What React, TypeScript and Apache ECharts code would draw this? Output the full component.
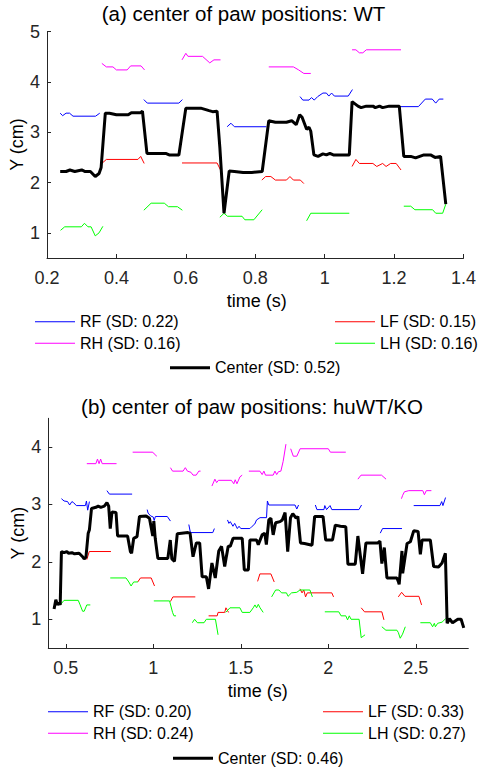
import React, { useEffect, useRef } from "react";
import * as echarts from "echarts";

// ---------- (a) WT ----------
const wtTitle = "(a) center of paw positions: WT";
const wtLegend = ["RF (SD: 0.22)", "LF (SD: 0.15)", "RH (SD: 0.16)", "LH (SD: 0.16)", "Center (SD: 0.52)"];
const wtXTicks = [0.2, 0.4, 0.6, 0.8, 1, 1.2, 1.4];
const wtYTicks = [1, 2, 3, 4, 5];

const wtRF = [
  [[0.238, 3.38], [0.245, 3.33], [0.255, 3.38], [0.265, 3.38], [0.275, 3.32], [0.34, 3.32], [0.352, 3.38]],
  [[0.479, 3.65], [0.489, 3.58], [0.58, 3.58], [0.59, 3.65]],
  [[0.719, 3.11], [0.73, 3.18], [0.74, 3.11], [0.832, 3.11]],
  [[0.929, 3.71], [0.937, 3.64], [0.955, 3.64], [0.962, 3.69], [0.97, 3.64], [0.98, 3.71], [0.995, 3.78], [1.005, 3.78], [1.012, 3.72], [1.02, 3.78], [1.028, 3.72], [1.068, 3.72], [1.08, 3.85]],
  [[1.216, 3.51], [1.27, 3.51], [1.29, 3.66], [1.31, 3.66], [1.32, 3.58], [1.33, 3.66], [1.342, 3.66]],
];
const wtRH = [
  [[0.358, 4.37], [0.371, 4.3], [0.39, 4.3], [0.4, 4.24], [0.431, 4.24], [0.441, 4.32], [0.471, 4.32], [0.481, 4.24]],
  [[0.589, 4.44], [0.6, 4.57], [0.606, 4.51], [0.648, 4.51], [0.669, 4.38], [0.681, 4.44], [0.7, 4.44]],
  [[0.839, 4.3], [0.91, 4.3], [0.925, 4.24], [0.94, 4.17], [0.96, 4.17]],
  [[1.079, 4.64], [1.09, 4.64], [1.1, 4.58], [1.11, 4.58], [1.12, 4.64], [1.22, 4.64]],
];
const wtLF = [
  [[0.358, 2.38], [0.371, 2.46], [0.462, 2.46], [0.47, 2.52], [0.48, 2.38]],
  [[0.589, 2.39], [0.69, 2.39], [0.7, 2.25]],
  [[0.819, 2.05], [0.83, 2.12], [0.845, 2.12], [0.858, 2.05], [0.89, 2.05], [0.9, 2.12], [0.91, 2.05], [0.93, 2.05], [0.94, 1.98]],
  [[1.079, 2.32], [1.09, 2.46], [1.1, 2.38], [1.139, 2.38], [1.15, 2.32], [1.167, 2.38], [1.177, 2.32], [1.19, 2.38], [1.206, 2.38], [1.22, 2.25]],
];
const wtLH = [
  [[0.239, 1.05], [0.251, 1.12], [0.299, 1.12], [0.308, 1.19], [0.318, 1.12], [0.327, 1.12], [0.339, 0.94], [0.35, 1.0], [0.361, 1.13]],
  [[0.479, 1.45], [0.5, 1.59], [0.538, 1.59], [0.55, 1.52], [0.576, 1.52], [0.59, 1.45]],
  [[0.698, 1.31], [0.71, 1.39], [0.72, 1.33], [0.762, 1.33], [0.77, 1.26], [0.796, 1.26], [0.82, 1.46]],
  [[0.948, 1.24], [0.96, 1.39], [1.071, 1.39]],
  [[1.228, 1.53], [1.248, 1.53], [1.26, 1.46], [1.311, 1.46], [1.32, 1.39], [1.34, 1.39], [1.349, 1.57]],
];
const wtCenter = [
  [0.238, 2.22], [0.255, 2.22], [0.266, 2.25], [0.28, 2.22], [0.3, 2.25], [0.31, 2.22], [0.325, 2.22], [0.339, 2.12], [0.35, 2.18], [0.356, 2.3],
  [0.368, 3.38], [0.38, 3.38], [0.4, 3.35], [0.434, 3.35], [0.443, 3.39], [0.47, 3.39], [0.475, 3.42], [0.488, 2.58], [0.5, 2.58], [0.542, 2.58],
  [0.552, 2.55], [0.58, 2.55], [0.6, 3.48], [0.643, 3.48], [0.667, 3.43], [0.677, 3.41], [0.69, 3.42], [0.698, 2.7], [0.71, 1.39], [0.725, 2.23],
  [0.74, 2.22], [0.765, 2.2], [0.79, 2.2], [0.82, 2.22], [0.839, 3.23], [0.858, 3.2], [0.89, 3.2], [0.905, 3.23], [0.918, 3.15], [0.928, 3.35],
  [0.935, 3.3], [0.948, 3.06], [0.955, 3.1], [0.96, 3.02], [0.969, 2.55], [0.981, 2.52], [0.995, 2.57], [1.005, 2.55], [1.015, 2.58], [1.025, 2.55],
  [1.071, 2.55], [1.079, 3.61], [1.096, 3.52], [1.105, 3.49], [1.12, 3.52], [1.139, 3.52], [1.146, 3.49], [1.158, 3.52], [1.167, 3.49], [1.186, 3.52],
  [1.215, 3.52], [1.228, 2.52], [1.248, 2.52], [1.262, 2.49], [1.286, 2.55], [1.305, 2.55], [1.318, 2.5], [1.334, 2.52], [1.349, 1.57],
];

// ---------- (b) huWT/KO ----------
const koTitle = "(b) center of paw positions: huWT/KO";
const koLegend = ["RF (SD: 0.20)", "LF (SD: 0.33)", "RH (SD: 0.24)", "LH (SD: 0.27)", "Center (SD: 0.46)"];
const koXTicks = [0.5, 1, 1.5, 2, 2.5];
const koYTicks = [1, 2, 3, 4];

const koRF = [
  [[0.475, 3.1], [0.49, 3.06], [0.51, 3.05], [0.522, 2.99], [0.535, 3.05], [0.545, 3.03], [0.56, 2.98], [0.612, 2.98], [0.618, 3.06], [0.625, 2.9], [0.635, 3.05]],
  [[0.735, 3.24], [0.749, 3.18], [0.879, 3.18]],
  [[0.965, 2.91], [0.97, 2.85], [0.985, 2.8], [1.0, 2.78], [1.005, 2.72], [1.012, 2.79], [1.08, 2.79], [1.098, 2.71]],
  [[1.203, 2.65], [1.212, 2.51], [1.34, 2.51], [1.349, 2.58]],
  [[1.424, 2.73], [1.432, 2.67], [1.44, 2.7], [1.455, 2.62], [1.465, 2.67], [1.48, 2.58], [1.49, 2.62], [1.5, 2.58], [1.552, 2.58], [1.565, 2.62], [1.58, 2.66], [1.59, 2.73], [1.61, 2.77], [1.647, 2.77], [1.652, 3.06], [1.66, 2.99], [1.81, 2.99], [1.82, 2.92], [1.83, 2.99]],
  [[1.926, 2.99], [1.935, 2.91], [1.975, 2.91], [1.98, 2.98], [1.99, 2.91], [2.01, 2.98], [2.02, 2.91], [2.175, 2.91], [2.19, 2.99]],
  [[2.297, 2.5], [2.31, 2.58], [2.421, 2.58]],
  [[2.488, 2.98], [2.638, 2.98], [2.648, 3.05], [2.655, 2.98], [2.67, 3.12]],
];
const koRH = [
  [[0.62, 3.71], [0.672, 3.71], [0.681, 3.79], [0.69, 3.71], [0.699, 3.79], [0.708, 3.71], [0.79, 3.71]],
  [[0.882, 3.91], [0.997, 3.91], [1.005, 3.88], [1.02, 3.84]],
  [[1.098, 3.64], [1.11, 3.58], [1.17, 3.58], [1.183, 3.64], [1.195, 3.58], [1.215, 3.56], [1.227, 3.51], [1.245, 3.51], [1.26, 3.58], [1.27, 3.58]],
  [[1.335, 3.32], [1.352, 3.44], [1.362, 3.38], [1.372, 3.42], [1.446, 3.42], [1.46, 3.36], [1.468, 3.43], [1.478, 3.36], [1.495, 3.48], [1.508, 3.51]],
  [[1.546, 3.58], [1.609, 3.58], [1.622, 3.52], [1.632, 3.58], [1.641, 3.51], [1.685, 3.51], [1.695, 3.58], [1.705, 3.52], [1.715, 3.57], [1.729, 3.58], [1.742, 3.75], [1.758, 4.05]],
  [[1.785, 3.97], [1.8, 3.84], [1.82, 3.84], [1.839, 3.97], [2.0, 3.97], [2.012, 3.91], [2.1, 3.91]],
  [[2.169, 3.44], [2.187, 3.51], [2.304, 3.51], [2.33, 3.44]],
  [[2.418, 3.1], [2.425, 3.16], [2.435, 3.22], [2.46, 3.24], [2.54, 3.24], [2.549, 3.17], [2.56, 3.24], [2.589, 3.24]],
];
const koLF = [
  [[0.62, 2.04], [0.634, 2.18], [0.758, 2.18]],
  [[0.911, 1.65], [0.927, 1.72], [0.988, 1.72], [1.007, 1.58]],
  [[1.098, 1.31], [1.112, 1.39], [1.24, 1.39]],
  [[1.316, 1.06], [1.365, 1.06], [1.37, 1.12], [1.408, 1.12], [1.415, 1.2], [1.43, 1.12]],
  [[1.596, 1.66], [1.609, 1.79], [1.672, 1.79], [1.691, 1.65]],
  [[1.838, 1.53], [1.85, 1.46], [1.86, 1.51], [1.87, 1.39], [1.88, 1.46], [2.02, 1.46], [2.03, 1.39]],
  [[2.188, 1.2], [2.207, 1.13], [2.306, 1.13], [2.318, 0.99]],
  [[2.4, 1.39], [2.419, 1.47], [2.438, 1.4], [2.518, 1.4], [2.533, 1.25]],
];
const koLH = [
  [[0.468, 1.25], [0.49, 1.33], [0.571, 1.33], [0.582, 1.25], [0.596, 1.14], [0.605, 1.14], [0.62, 1.25], [0.64, 1.25]],
  [[0.754, 1.72], [0.844, 1.72], [0.86, 1.65], [0.873, 1.58], [0.888, 1.65], [0.912, 1.65]],
  [[1.003, 1.32], [1.093, 1.32], [1.11, 1.12], [1.118, 1.06], [1.13, 1.06]],
  [[1.223, 0.94], [1.236, 1.0], [1.252, 0.94], [1.29, 0.94], [1.303, 1.0], [1.355, 1.0], [1.37, 0.73]],
  [[1.414, 1.12], [1.438, 1.2], [1.495, 1.2], [1.508, 1.12], [1.552, 1.12], [1.571, 1.2], [1.581, 1.25], [1.59, 1.2], [1.6, 1.26], [1.61, 1.2], [1.628, 1.12]],
  [[1.676, 1.39], [1.699, 1.51], [1.718, 1.51], [1.733, 1.46], [1.761, 1.46], [1.77, 1.4], [1.79, 1.46], [1.82, 1.47], [1.838, 1.51], [1.895, 1.51], [1.909, 1.39]],
  [[1.98, 1.13], [2.06, 1.13], [2.073, 1.06], [2.1, 1.06], [2.11, 0.99], [2.12, 1.06], [2.13, 1.0], [2.176, 1.0], [2.188, 0.68], [2.21, 0.73]],
  [[2.306, 0.87], [2.329, 0.81], [2.392, 0.81], [2.4, 0.77], [2.411, 0.67], [2.424, 0.74], [2.44, 0.87]],
  [[2.526, 0.94], [2.583, 0.94], [2.596, 0.87], [2.606, 0.93], [2.612, 0.87], [2.625, 0.93], [2.65, 0.95], [2.67, 1.01]],
];
const koCenter = [
  [0.433, 1.18], [0.443, 1.34], [0.452, 1.25], [0.462, 1.29], [0.468, 1.25], [0.475, 2.18], [0.49, 2.16], [0.506, 2.18], [0.515, 2.15], [0.535, 2.16],
  [0.55, 2.14], [0.576, 2.15], [0.596, 2.09], [0.605, 2.05], [0.615, 2.08], [0.628, 2.5], [0.635, 2.56], [0.647, 2.93], [0.672, 2.95], [0.685, 2.97],
  [0.7, 2.95], [0.72, 2.97], [0.735, 3.03], [0.745, 2.97], [0.754, 2.58], [0.764, 2.87], [0.787, 2.86], [0.796, 2.45], [0.853, 2.45], [0.869, 2.18],
  [0.876, 2.15], [0.888, 2.41], [0.907, 2.44], [0.921, 2.79], [0.959, 2.8], [0.978, 2.76], [0.997, 2.45], [1.003, 2.71], [1.011, 2.41], [1.026, 2.06],
  [1.083, 2.06], [1.097, 2.38], [1.106, 2.05], [1.121, 2.01], [1.137, 2.49], [1.198, 2.51], [1.21, 2.5], [1.227, 2.09], [1.246, 2.33], [1.265, 2.33],
  [1.279, 1.74], [1.303, 1.74], [1.316, 1.53], [1.335, 1.98], [1.354, 1.72], [1.374, 2.19], [1.39, 2.27], [1.408, 1.92], [1.418, 2.1], [1.428, 2.27],
  [1.44, 2.27], [1.456, 2.41], [1.508, 2.41], [1.52, 1.86], [1.543, 1.86], [1.552, 2.38], [1.59, 2.38], [1.6, 2.3], [1.622, 2.47], [1.637, 2.5],
  [1.646, 2.3], [1.66, 2.73], [1.672, 2.76], [1.685, 2.47], [1.699, 2.68], [1.724, 2.7], [1.737, 2.73], [1.753, 2.86], [1.768, 2.18], [1.784, 2.77],
  [1.797, 2.84], [1.816, 2.76], [1.826, 2.79], [1.841, 2.33], [1.864, 2.32], [1.907, 2.29], [1.922, 2.79], [1.97, 2.79], [1.985, 2.38], [2.024, 2.38],
  [2.04, 2.64], [2.069, 2.62], [2.1, 2.61], [2.112, 1.96], [2.154, 1.96], [2.169, 2.45], [2.196, 1.79], [2.215, 2.33], [2.283, 2.33], [2.295, 2.36],
  [2.306, 1.97], [2.32, 2.25], [2.335, 1.72], [2.392, 1.72], [2.4, 1.66], [2.405, 1.61], [2.421, 2.19], [2.425, 1.8], [2.45, 2.32], [2.469, 2.35],
  [2.488, 2.54], [2.513, 2.53], [2.526, 2.13], [2.536, 2.38], [2.583, 2.38], [2.602, 1.92], [2.63, 1.91], [2.65, 1.98], [2.669, 2.15], [2.679, 0.93],
  [2.692, 1.01], [2.71, 0.94], [2.74, 1.0], [2.759, 1.0], [2.774, 0.85],
];

const FONT = "'Liberation Sans', Arial, Helvetica, sans-serif";
const AXIS = "#262626";
const COLORS = { RF: "#0000ff", LF: "#ff0000", RH: "#ff00ff", LH: "#00ff00", C: "#000000" };

function segSeries(name: string, color: string, width: number, segs: number[][][], idx: number, z: number) {
  return segs.map((seg) => ({
    type: "line",
    name,
    data: seg,
    xAxisIndex: idx,
    yAxisIndex: idx,
    symbol: "none",
    showSymbol: false,
    silent: true,
    z,
    lineStyle: { color, width },
    itemStyle: { color },
    emphasis: { disabled: true },
  }));
}

function xAxisCfg(idx: number, min: number, max: number, ticks: number[]) {
  return {
    type: "value",
    gridIndex: idx,
    min,
    max,
    axisLine: { show: true, onZero: false, lineStyle: { color: AXIS, width: 1 } },
    axisTick: { show: true, inside: true, length: 4, lineStyle: { color: AXIS }, customValues: ticks },
    axisLabel: { fontSize: 18, color: AXIS, fontFamily: FONT, margin: 11, customValues: ticks },
    splitLine: { show: false },
  };
}
function yAxisCfg(idx: number, min: number, max: number, ticks: number[]) {
  return {
    type: "value",
    gridIndex: idx,
    min,
    max,
    axisLine: { show: true, onZero: false, lineStyle: { color: AXIS, width: 1 } },
    axisTick: { show: true, inside: true, length: 4, lineStyle: { color: AXIS }, customValues: ticks },
    axisLabel: { fontSize: 18, color: AXIS, fontFamily: FONT, margin: 7, customValues: ticks },
    splitLine: { show: false },
  };
}

function legendCfg(name: string, left: number, cy: number, thick: number) {
  return {
    data: [name],
    left,
    top: cy - 8,
    padding: 0,
    icon: "rect",
    itemWidth: 40,
    itemHeight: thick,
    itemGap: 0,
    selectedMode: false,
    textStyle: { fontFamily: FONT, fontSize: 16, color: "#000", lineHeight: 16 },
  };
}

function txt(text: string, x: number, y: number, size: number, rot = 0) {
  return {
    type: "text",
    x,
    y,
    rotation: rot,
    silent: true,
    style: {
      text,
      fill: "#000",
      fontSize: size,
      fontFamily: FONT,
      fontWeight: "normal",
      align: "center",
      verticalAlign: "middle",
      textAlign: "center",
      textVerticalAlign: "middle",
    },
  };
}

export default function App() {
  const ref = useRef<HTMLDivElement>(null);
  useEffect(() => {
    document.body.style.margin = "0";
    if (!ref.current) return;
    const chart = echarts.init(ref.current, undefined, { renderer: "svg" });
    const series: any[] = [
      ...segSeries(wtLegend[0], COLORS.RF, 1, wtRF, 0, 2),
      ...segSeries(wtLegend[1], COLORS.LF, 1, wtLF, 0, 2),
      ...segSeries(wtLegend[2], COLORS.RH, 1, wtRH, 0, 2),
      ...segSeries(wtLegend[3], COLORS.LH, 1, wtLH, 0, 2),
      ...segSeries(wtLegend[4], COLORS.C, 3, [wtCenter], 0, 3),
      ...segSeries(koLegend[0], COLORS.RF, 1, koRF, 1, 2),
      ...segSeries(koLegend[1], COLORS.LF, 1, koLF, 1, 2),
      ...segSeries(koLegend[2], COLORS.RH, 1, koRH, 1, 2),
      ...segSeries(koLegend[3], COLORS.LH, 1, koLH, 1, 2),
      ...segSeries(koLegend[4], COLORS.C, 3, [koCenter], 1, 3),
    ];
    chart.setOption({
      animation: false,
      backgroundColor: "#ffffff",
      grid: [
        { left: 47, top: 31.7, width: 419, height: 226.3, containLabel: false },
        { left: 48.3, top: 418.3, width: 420, height: 229.7, containLabel: false },
      ],
      xAxis: [xAxisCfg(0, 0.2, 1.4, wtXTicks), xAxisCfg(1, 0.4, 2.8, koXTicks)],
      yAxis: [yAxisCfg(0, 0.5, 5, wtYTicks), yAxisCfg(1, 0.5, 4.5, koYTicks)],
      legend: [
        legendCfg(wtLegend[0], 35, 321.7, 1),
        legendCfg(wtLegend[1], 335, 321.7, 1),
        legendCfg(wtLegend[2], 35, 343.3, 1),
        legendCfg(wtLegend[3], 335, 343.3, 1),
        legendCfg(wtLegend[4], 170, 367.7, 3),
        legendCfg(koLegend[0], 48, 711.7, 1),
        legendCfg(koLegend[1], 323, 711.7, 1),
        legendCfg(koLegend[2], 48, 733.3, 1),
        legendCfg(koLegend[3], 323, 733.3, 1),
        legendCfg(koLegend[4], 173, 758.3, 3),
      ],
      graphic: {
        elements: [
          txt(wtTitle, 243.5, 13, 20.5),
          txt("time (s)", 256.7, 300.7, 18),
          txt("Y (cm)", 17, 144.5, 18, Math.PI / 2),
          txt(koTitle, 252, 406, 20.5),
          txt("time (s)", 257.8, 690.7, 18),
          txt("Y (cm)", 17.5, 533.2, 18, Math.PI / 2),
        ],
      },
      series,
    });
    return () => chart.dispose();
  }, []);
  return <div ref={ref} style={{ width: 479, height: 771, overflow: "hidden" }} />;
}
